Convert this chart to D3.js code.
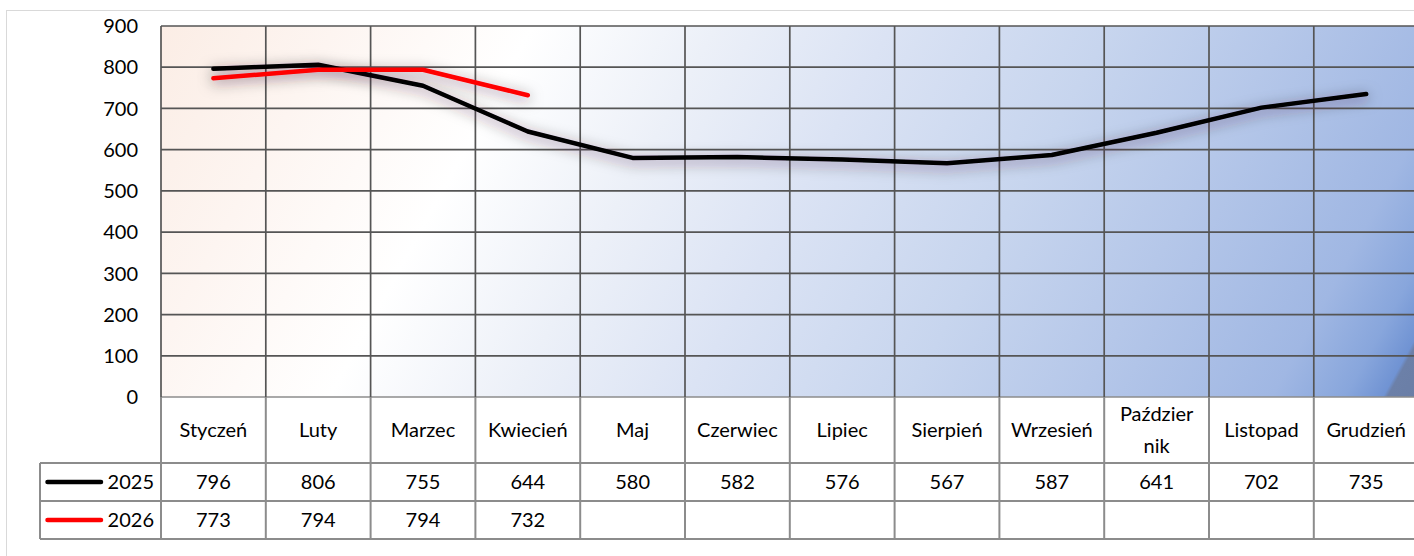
<!DOCTYPE html>
<html><head><meta charset="utf-8">
<script src="https://cdn.jsdelivr.net/npm/d3@7"></script>
<style>
html,body{margin:0;padding:0;background:#fff;overflow:hidden}
text{font-family:Lato,"Liberation Sans",sans-serif;fill:#000}
</style></head>
<body><svg id="c" width="1414" height="556"></svg>
<script>
const months = ["Styczeń","Luty","Marzec","Kwiecień","Maj","Czerwiec","Lipiec","Sierpień","Wrzesień","Październik","Listopad","Grudzień"];
const monthLabelLines = [["Styczeń"],["Luty"],["Marzec"],["Kwiecień"],["Maj"],["Czerwiec"],["Lipiec"],["Sierpień"],["Wrzesień"],["Paździer","nik"],["Listopad"],["Grudzień"]];
const values2025 = [796,806,755,644,580,582,576,567,587,641,702,735];
const values2026 = [773,794,794,732,null,null,null,null,null,null,null,null];
const yTicks = [0,100,200,300,400,500,600,700,800,900];
const seriesNames = ["2025","2026"];
const seriesColors = ["#000000","#ff0000"];

const svg = d3.select("#c");
const L = 161, R = 1418.6, T = 26, B = 397;
const rowY = [397, 463, 501, 539];
const legendLeft = 40;

const x = d3.scaleBand().domain(months).range([L, R]).padding(0);
const y = d3.scaleLinear().domain([0, 900]).range([B, T]);

const defs = svg.append("defs");
const g = defs.append("linearGradient").attr("id","bg").attr("gradientUnits","userSpaceOnUse")
  .attr("x1", L).attr("y1", T).attr("x2", 1282.7).attr("y2", 642.9);
[[0,"#fbede5"],[0.12,"#fdf5f1"],[0.255,"#ffffff"],[0.38,"#ecf0f8"],[0.5,"#dbe3f4"],[0.65,"#c7d5ee"],[0.77,"#b5c7e9"],[0.9,"#a0b7e3"],[0.95,"#88a6dc"],[0.976,"#7093d3"],[0.979,"#6c80a8"],[1,"#6a7ea6"]]
  .forEach(([o,c]) => g.append("stop").attr("offset",o).attr("stop-color",c));

const f = defs.append("filter").attr("id","sh").attr("x","-20%").attr("y","-80%").attr("width","140%").attr("height","260%");
f.append("feGaussianBlur").attr("in","SourceAlpha").attr("stdDeviation",7).attr("result","b");
f.append("feOffset").attr("in","b").attr("dx",0).attr("dy",3).attr("result","o");
f.append("feFlood").attr("flood-color","#301828").attr("flood-opacity",0.55);
f.append("feComposite").attr("in2","o").attr("operator","in").attr("result","s");
const m = f.append("feMerge");
m.append("feMergeNode").attr("in","s");
m.append("feMergeNode").attr("in","SourceGraphic");

// outer border
svg.append("rect").attr("x",6.5).attr("y",10.5).attr("width",1500).attr("height",600)
  .attr("fill","#fff").attr("stroke","#d9d9d9").attr("stroke-width",1);

// plot background
svg.append("rect").attr("x",L).attr("y",T).attr("width",R-L).attr("height",B-T).attr("fill","url(#bg)");

// horizontal gridlines
svg.append("g").selectAll("line").data(yTicks).join("line")
  .attr("x1",L).attr("x2",R).attr("y1",d=>y(d)).attr("y2",d=>y(d))
  .attr("stroke",d=>d===0?"#8c8c8c":"#555555").attr("stroke-width",1.7);
// vertical gridlines
const bounds = months.map(mn => x(mn)).concat([R]);
svg.append("g").selectAll("line").data(bounds).join("line")
  .attr("x1",d=>d).attr("x2",d=>d).attr("y1",T).attr("y2",B)
  .attr("stroke","#555555").attr("stroke-width",1.7);

// y axis labels
svg.append("g").selectAll("text").data(yTicks).join("text")
  .attr("x",138).attr("y",d=>y(d)).attr("dy","0.36em").attr("text-anchor","end")
  .attr("font-size",20).text(d=>d);

// data lines
const line = d3.line().defined(d=>d.v!=null).x(d=>x(d.m)+x.bandwidth()/2).y(d=>y(d.v));
[values2025, values2026].forEach((vals,i) => {
  const pts = months.map((mn,j)=>({m:mn, v:vals[j]}));
  svg.append("path").datum(pts).attr("d",line).attr("fill","none")
    .attr("stroke",seriesColors[i]).attr("stroke-width",4.5)
    .attr("stroke-linecap","round").attr("stroke-linejoin","round")
    .attr("filter","url(#sh)");
});

// data table
const tg = svg.append("g");
const tableStroke = "#8c8c8c";
[rowY[1], rowY[2], rowY[3]].forEach(yy => {
  tg.append("line").attr("x1",legendLeft).attr("x2",R).attr("y1",yy).attr("y2",yy).attr("stroke",tableStroke).attr("stroke-width",2);
});
bounds.forEach(bx => {
  tg.append("line").attr("x1",bx).attr("x2",bx).attr("y1",rowY[0]).attr("y2",rowY[3]).attr("stroke",tableStroke).attr("stroke-width",2);
});
tg.append("line").attr("x1",legendLeft).attr("x2",legendLeft).attr("y1",rowY[1]).attr("y2",rowY[3]).attr("stroke",tableStroke).attr("stroke-width",2);

// header labels
months.forEach((mn,j) => {
  const lines = monthLabelLines[j];
  const cx = x(mn)+x.bandwidth()/2;
  const cy = (rowY[0]+rowY[1])/2;
  const lh = 32;
  lines.forEach((ln,k) => {
    tg.append("text").attr("x",cx).attr("y",cy + (k-(lines.length-1)/2)*lh).attr("dy","0.36em")
      .attr("text-anchor","middle").attr("font-size",20).text(ln);
  });
});

// value rows
[values2025, values2026].forEach((vals,i) => {
  const cy = (rowY[i+1]+rowY[i+2])/2;
  months.forEach((mn,j) => {
    if (vals[j]==null) return;
    tg.append("text").attr("x",x(mn)+x.bandwidth()/2).attr("y",cy).attr("dy","0.36em")
      .attr("text-anchor","middle").attr("font-size",20).text(vals[j]);
  });
  tg.append("line").attr("x1",47.5).attr("x2",101).attr("y1",cy).attr("y2",cy)
    .attr("stroke",seriesColors[i]).attr("stroke-width",4.5).attr("stroke-linecap","round");
  tg.append("text").attr("x",154).attr("y",cy).attr("dy","0.36em").attr("text-anchor","end")
    .attr("font-size",20).text(seriesNames[i]);
});
</script></body></html>
